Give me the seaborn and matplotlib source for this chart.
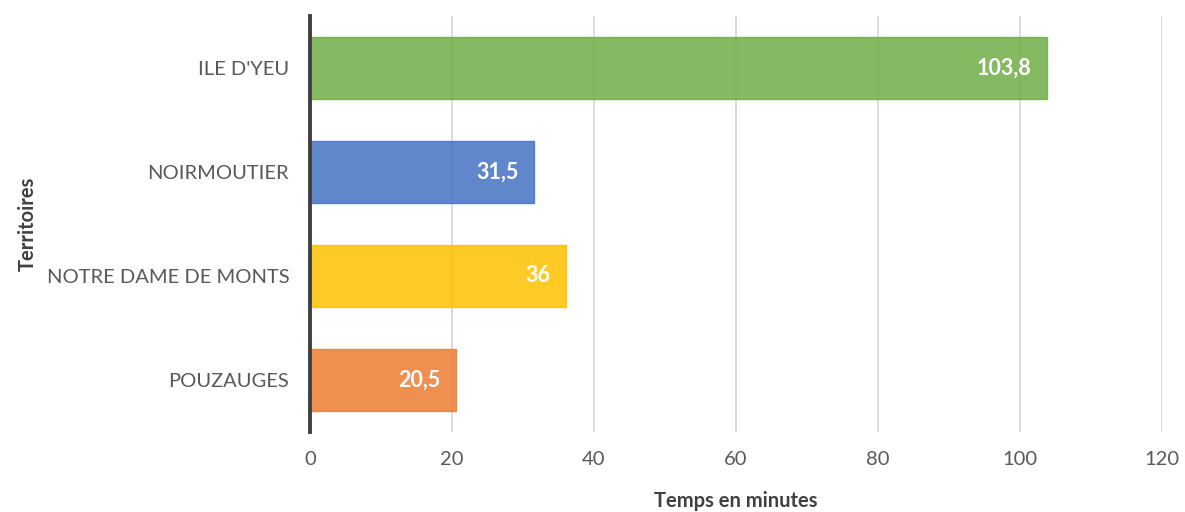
import matplotlib
matplotlib.use("Agg")
import matplotlib.pyplot as plt
import pandas as pd
import seaborn as sns

territoires = ["ILE D'YEU", "NOIRMOUTIER", "NOTRE DAME DE MONTS", "POUZAUGES"]
temps = [103.8, 31.5, 36, 20.5]
etiquettes = ["103,8", "31,5", "36", "20,5"]
couleurs = ["#70AD47", "#4472C4", "#FFC000", "#ED7D31"]
ticks_x = [0, 20, 40, 60, 80, 100, 120]

df = pd.DataFrame({"territoire": territoires, "temps": temps})

sns.set_theme(style="white")
plt.rcParams["font.family"] = ["Lato", "DejaVu Sans"]

fig = plt.figure(figsize=(11.85, 5.12), dpi=100)
ax = fig.add_axes([0.2616, 0.15625, 0.719, 0.8125])

sns.barplot(
    data=df, x="temps", y="territoire", hue="territoire",
    palette=couleurs, orient="h", width=0.6, alpha=0.85, saturation=1,
    legend=False, ax=ax, zorder=3,
)
for patch, col in zip(ax.patches, couleurs):
    patch.set_edgecolor(col)
    patch.set_linewidth(1.0)

for i, (v, lab) in enumerate(zip(temps, etiquettes)):
    ax.annotate(lab, xy=(v, i), xytext=(-11, 0), textcoords="offset points",
                ha="right", va="center", color="white", fontsize=15.5,
                fontweight="bold", zorder=5)

ax.set_xlim(0, 120)
ax.set_ylim(3.5, -0.5)
ax.set_xticks(ticks_x)
ax.xaxis.grid(True, color="#D9D9D9", linewidth=1.3, zorder=0)
ax.set_axisbelow(True)
for s in ["top", "right", "bottom"]:
    ax.spines[s].set_visible(False)
ax.spines["left"].set_color("#404040")
ax.spines["left"].set_linewidth(2.8)
ax.spines["left"].set_zorder(6)

ax.tick_params(axis="both", length=0, labelsize=14.5, labelcolor="#595959")
ax.tick_params(axis="y", pad=15)
ax.tick_params(axis="x", pad=14)

ax.set_xlabel("Temps en minutes", fontsize=14.5, fontweight="bold",
              color="#404040", labelpad=16)
ax.set_ylabel("Territoires", fontsize=14.5, fontweight="bold", color="#404040",
              labelpad=6)

fig.savefig("out.png", dpi=100)
